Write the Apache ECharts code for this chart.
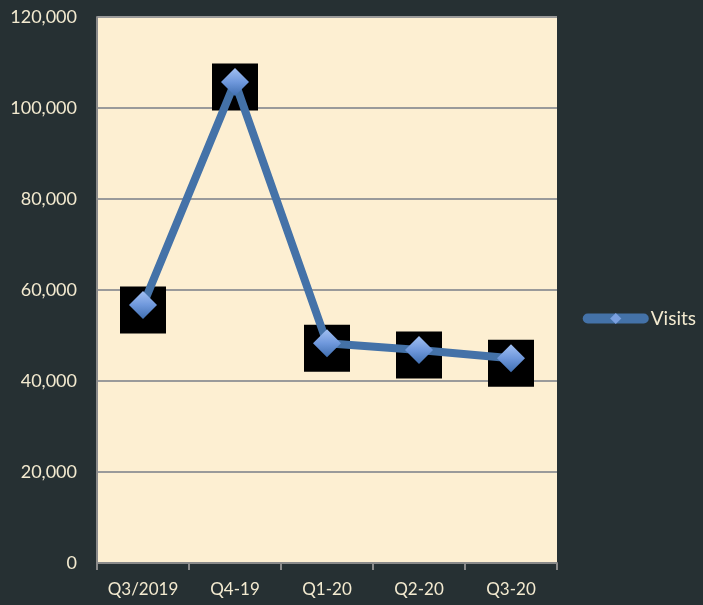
<!DOCTYPE html>
<html><head><meta charset="utf-8">
<script src="https://cdn.jsdelivr.net/npm/echarts@6/dist/echarts.min.js"></script>
<style>html,body{margin:0;padding:0;background:#263033;}#c{width:703px;height:605px;}</style>
</head><body><div id="c"></div>
<script>
var categories = ['Q3/2019', 'Q4-19', 'Q1-20', 'Q2-20', 'Q3-20'];
var visits = [56700, 105700, 48300, 46800, 45000];
var seriesName = 'Visits';
var yTicks = {min: 0, max: 120000, interval: 20000};

var font = 'Lato, "Open Sans", sans-serif';
var txt = '#f3ead0';
var diamondFill = new echarts.graphic.LinearGradient(0, 0, 0, 1, [
  {offset: 0, color: '#a2c0f2'}, {offset: 0.5, color: '#6f98dc'}, {offset: 1, color: '#3f6eb0'}
]);
var chart = echarts.init(document.getElementById('c'));
chart.setOption({
  backgroundColor: '#263033',
  animation: false,
  grid: {left: 97, right: 146, top: 17, bottom: 42, show: true, backgroundColor: '#fdefd2', borderWidth: 0},
  legend: {
    data: [{name: seriesName}],
    orient: 'vertical', right: 2, top: 304,
    itemWidth: 56, itemHeight: 14, itemGap: 4,
    lineStyle: {width: 10, cap: 'round', color: '#4472a8'},
    itemStyle: {color: '#7aa0e0'},
    textStyle: {color: txt, fontSize: 19, fontFamily: font, padding: [0,0,0,2]}
  },
  xAxis: {
    type: 'category', data: categories, boundaryGap: true,
    axisLine: {lineStyle: {color: '#8a8a8a', width: 2}},
    axisTick: {show: true, length: 7, lineStyle: {color: '#8a8a8a', width: 2}},
    axisLabel: {color: txt, fontSize: 17, fontFamily: font, margin: 18}
  },
  yAxis: {
    type: 'value', min: yTicks.min, max: yTicks.max, interval: yTicks.interval,
    axisLine: {show: true, lineStyle: {color: '#8a8a8a', width: 2}},
    axisTick: {show: false},
    splitLine: {lineStyle: {color: '#9a9a9a', width: 2}},
    axisLabel: {color: txt, fontSize: 18, fontFamily: font, margin: 20,
      formatter: function(v){ return v.toLocaleString('en-US'); }}
  },
  series: [
    {
      name: '_box', type: 'scatter', data: visits, symbol: 'rect', symbolSize: [46, 47],
      symbolOffset: [0, 5], itemStyle: {color: '#000', opacity: 1}, z: 1, silent: true,
      emphasis: {disabled: true}
    },
    {
      name: seriesName, type: 'line', data: visits, z: 3,
      lineStyle: {color: '#4472a8', width: 8},
      symbol: 'diamond', symbolSize: 28, showAllSymbol: true,
      itemStyle: {color: diamondFill, borderWidth: 0, opacity: 1}
    }
  ]
});
</script></body></html>
